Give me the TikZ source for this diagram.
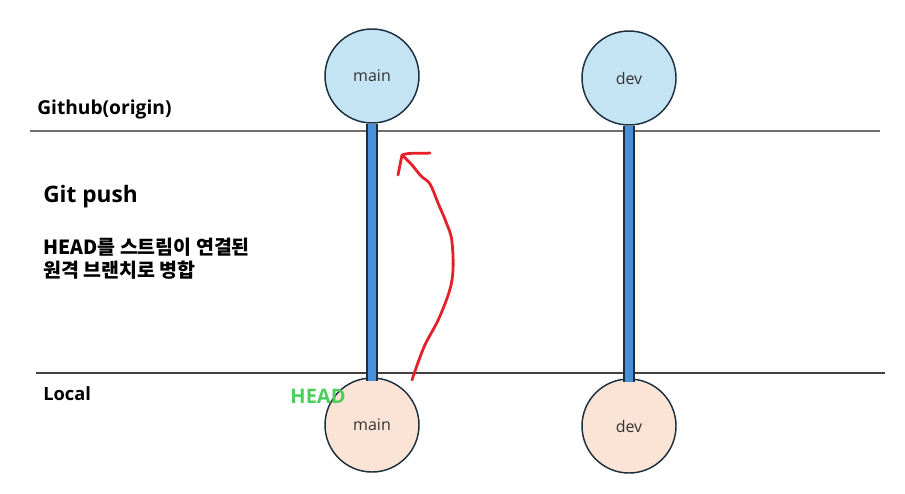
\documentclass[tikz,border=0pt]{standalone}
\usepackage{fontspec}
\setmainfont{Open Sans}
\newfontfamily\krfont{Noto Sans CJK KR}
\usetikzlibrary{positioning}

\definecolor{remotefill}{HTML}{C5E4F3}
\definecolor{localfill}{HTML}{FBE4D6}
\definecolor{rimdark}{HTML}{1B2F3E}
\definecolor{barblue}{HTML}{4A8FD9}
\definecolor{headgreen}{HTML}{4CCF5A}
\definecolor{penred}{HTML}{E5202B}
\definecolor{rulegray}{HTML}{6E6E6E}

\begin{document}
\begin{tikzpicture}[
  x=0.75pt,y=-0.75pt,
  branch/.style={circle,draw=rimdark,line width=1.1pt,minimum size=70.5pt,
    inner sep=0pt,font=\fontsize{12}{14}\selectfont,text=black!80},
  remote/.style={branch,fill=remotefill},
  local/.style={branch,fill=localfill},
  bar/.style={draw=rimdark,line width=0.9pt,double=barblue,double distance=6.6pt},
  divider/.style={draw=rulegray,line width=1.1pt},
  label/.style={anchor=west,inner sep=0pt,font=\fontsize{14.4}{16}\selectfont\bfseries},
  pushpen/.style={draw=penred,line width=2.1pt,line cap=round,line join=round}]
\useasboundingbox (0,0) rectangle (905,493);

% dividers between origin and local
\draw[divider] (30,131) -- (880,131);
\draw[divider,draw=black!75] (36,373) -- (885,373);

% branches
\node[remote] (mtop) at (372,76) {main};
\node[remote] (dtop) at (629,78) {dev};
\node[local] (mloc) at (372,425) {main};
\node[local] (dloc) at (629,426) {dev};

\draw[bar] (mtop.south) -- ([yshift=-3pt]mloc.north);
\draw[bar] (dtop.south) -- ([yshift=-3pt]dloc.north);

% side texts
\node[label] (origin) at (37,110) {Github(origin)};
\node[label,font=\fontsize{17}{20}\selectfont\bfseries] (push) at (43,197) {Git push};
\node[label,align=left,font=\krfont\fontsize{14.6}{17}\selectfont\bfseries] (merge) at (43,259)
  {HEAD를 스트림이 연결된\\원격 브랜치로 병합};
\node[label,font=\fontsize{13.7}{16}\selectfont\bfseries] (local) at (43,394) {Local};
\node[label,anchor=center,text=headgreen,font=\fontsize{15}{17}\selectfont\bfseries] (head) at (318,396) {HEAD};

% hand drawn push stroke
\coordinate (pbase) at (412,380);
\coordinate (ptip) at (402,155);
\draw[pushpen] plot[smooth,tension=0.6] coordinates {(pbase) (424,347) (440,316) (452,280)
  (452,242) (446,222) (438,203) (430,184) (421,176) (412,165) (ptip)};
\draw[pushpen] (398,175) -- (ptip) .. controls (410,152) and (420,154) .. (430,153);
\end{tikzpicture}
\end{document}
